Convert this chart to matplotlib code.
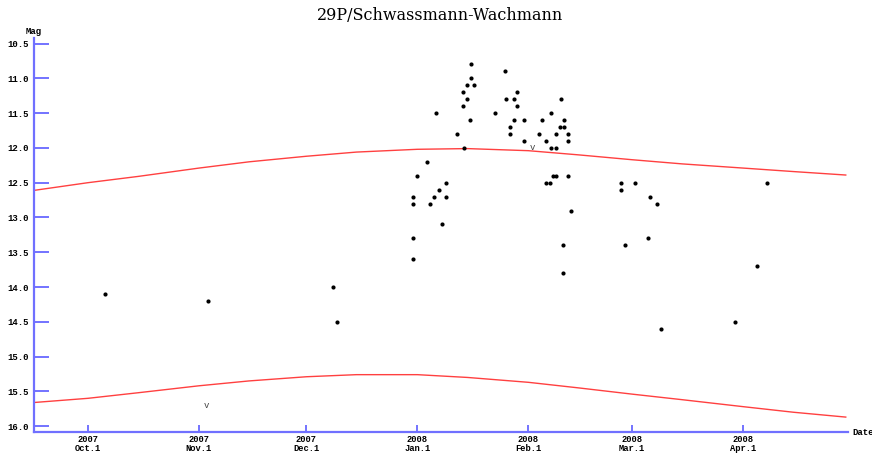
import pandas as pd
import matplotlib
matplotlib.use("Agg")
import matplotlib.pyplot as plt

# observations (date, magnitude)
obs_dates = [
    "2007-10-05 19:00", "2007-11-03 14:00", "2007-12-08 12:00", "2007-12-09 14:00",
    "2007-12-30 22:00", "2007-12-30 22:00", "2007-12-30 22:00", "2007-12-30 22:00",
    "2008-01-01 00:00", "2008-01-03 19:00", "2008-01-04 12:00", "2008-01-05 14:00",
    "2008-01-06 02:00", "2008-01-07 02:00", "2008-01-07 22:00", "2008-01-08 22:00",
    "2008-01-08 22:00", "2008-01-12 00:00", "2008-01-13 19:00", "2008-01-13 19:00",
    "2008-01-14 00:00", "2008-01-14 19:00", "2008-01-14 22:00", "2008-01-15 19:00",
    "2008-01-16 00:00", "2008-01-16 00:00", "2008-01-16 19:00", "2008-01-22 19:00",
    "2008-01-25 14:00", "2008-01-25 19:00", "2008-01-26 22:00", "2008-01-26 22:00",
    "2008-01-27 22:00", "2008-01-27 22:00", "2008-01-28 17:00", "2008-01-28 22:00",
    "2008-01-30 17:00", "2008-01-30 17:00", "2008-02-03 22:00", "2008-02-04 22:00",
    "2008-02-05 22:00", "2008-02-05 22:00", "2008-02-06 22:00", "2008-02-07 07:00",
    "2008-02-07 10:00", "2008-02-07 19:00", "2008-02-08 16:00", "2008-02-08 17:00",
    "2008-02-08 17:00", "2008-02-09 19:00", "2008-02-10 02:00", "2008-02-10 19:00",
    "2008-02-10 19:00", "2008-02-11 02:00", "2008-02-11 02:00", "2008-02-12 02:00",
    "2008-02-12 02:00", "2008-02-12 02:00", "2008-02-12 19:00", "2008-02-26 22:00",
    "2008-02-26 22:00", "2008-02-28 00:00", "2008-03-01 19:00", "2008-03-05 10:00",
    "2008-03-05 22:00", "2008-03-08 00:00", "2008-03-09 00:00", "2008-03-29 19:00",
    "2008-04-05 00:00", "2008-04-07 19:00",
]
obs_mag = [
    14.1, 14.2, 14.0, 14.5,
    12.7, 12.8, 13.3, 13.6,
    12.4, 12.2, 12.8, 12.7,
    11.5, 12.6, 13.1, 12.5,
    12.7, 11.8, 11.2, 11.4,
    12.0, 11.1, 11.3, 11.6,
    10.8, 11.0, 11.1, 11.5,
    10.9, 11.3, 11.7, 11.8,
    11.3, 11.6, 11.4, 11.2,
    11.6, 11.9, 11.8, 11.6,
    11.9, 12.5, 12.5, 11.5,
    12.0, 12.4, 12.4, 11.8,
    12.0, 11.7, 11.3, 13.4,
    13.8, 11.6, 11.7, 11.8,
    11.9, 12.4, 12.9, 12.5,
    12.6, 13.4, 12.5, 13.3,
    12.7, 12.8, 14.6, 14.5,
    13.7, 12.5,
]

# fainter-than estimates
lim_dates = ["2007-11-03 00:00", "2008-02-02 02:00"]
lim_mag = [15.7, 12.0]

# predicted brightness curves
curve_dates = [
    "2007-09-16 00:00", "2007-10-01 00:00", "2007-10-15 00:00", "2007-11-01 00:00",
    "2007-11-15 00:00", "2007-12-01 00:00", "2007-12-15 00:00", "2008-01-01 00:00",
    "2008-01-15 00:00", "2008-02-01 00:00", "2008-02-15 00:00", "2008-03-01 00:00",
    "2008-03-15 00:00", "2008-04-01 00:00", "2008-04-15 00:00", "2008-04-29 16:00",
]
upper_mag = [12.61, 12.50, 12.41, 12.29, 12.20, 12.12, 12.06, 12.02,
             12.01, 12.04, 12.10, 12.17, 12.23, 12.29, 12.34, 12.39]
lower_mag = [15.66, 15.60, 15.52, 15.42, 15.35, 15.29, 15.26, 15.26,
             15.30, 15.37, 15.45, 15.54, 15.62, 15.72, 15.80, 15.87]

tick_dates = ["2007-10-01", "2007-11-01", "2007-12-01", "2008-01-01",
              "2008-02-01", "2008-03-01", "2008-04-01"]
tick_labels = ["2007\nOct.1", "2007\nNov.1", "2007\nDec.1", "2008\nJan.1",
               "2008\nFeb.1", "2008\nMar.1", "2008\nApr.1"]
mag_ticks = [10.5, 11.0, 11.5, 12.0, 12.5, 13.0, 13.5, 14.0, 14.5, 15.0, 15.5, 16.0]

mono = "Liberation Mono"


def to_dt(vals):
    return pd.to_datetime(vals, format="mixed")


fig = plt.figure(figsize=(8.72, 4.54), dpi=100)
ax = fig.add_axes([34.3 / 872, 22.3 / 454, (848 - 34.3) / 872, (431.7 - 38) / 454])

ax.plot(to_dt(curve_dates), upper_mag, color="#ff4040", lw=1)
ax.plot(to_dt(curve_dates), lower_mag, color="#ff4040", lw=1)
ax.plot(to_dt(obs_dates), obs_mag, "o", color="black", ms=3, mew=0)
for d, m in zip(to_dt(lim_dates), lim_mag):
    ax.text(d, m, "v", ha="center", va="center", fontsize=6.5,
            family=mono, color="#444444")

ax.set_xlim(pd.Timestamp("2007-09-16"), pd.Timestamp("2008-04-30 07:00"))
ax.set_ylim(16.08, 10.42)

ax.set_xticks(to_dt(tick_dates))
ax.set_xticklabels(tick_labels, family=mono, fontsize=6.3, fontweight="bold",
                   linespacing=1.05)
ax.set_yticks(mag_ticks)
ax.set_yticklabels([f"{m:.1f}" for m in mag_ticks], family=mono, fontsize=6.5,
                   fontweight="bold")

ax.tick_params(axis="y", direction="in", length=11, width=1.1, color="#4d4dff", pad=4)
ax.tick_params(axis="x", direction="in", length=5, width=1.1, color="#4d4dff", pad=2.3)

for s in ["top", "right"]:
    ax.spines[s].set_visible(False)
for s in ["left", "bottom"]:
    ax.spines[s].set_color("#7070ff")
    ax.spines[s].set_linewidth(1.6)

fig.text(440 / 872, 1 - 16 / 454, "29P/Schwassmann-Wachmann", ha="center",
         va="center", family="DejaVu Serif", fontsize=11.5)
fig.text(33.5 / 872, 1 - 31 / 454, "Mag", ha="center", va="center",
         family=mono, fontsize=6.5, fontweight="bold")
fig.text(852 / 872, 1 - 432.5 / 454, "Date", ha="left", va="center",
         family=mono, fontsize=6.5, fontweight="bold")

fig.savefig("out.png", dpi=100)
